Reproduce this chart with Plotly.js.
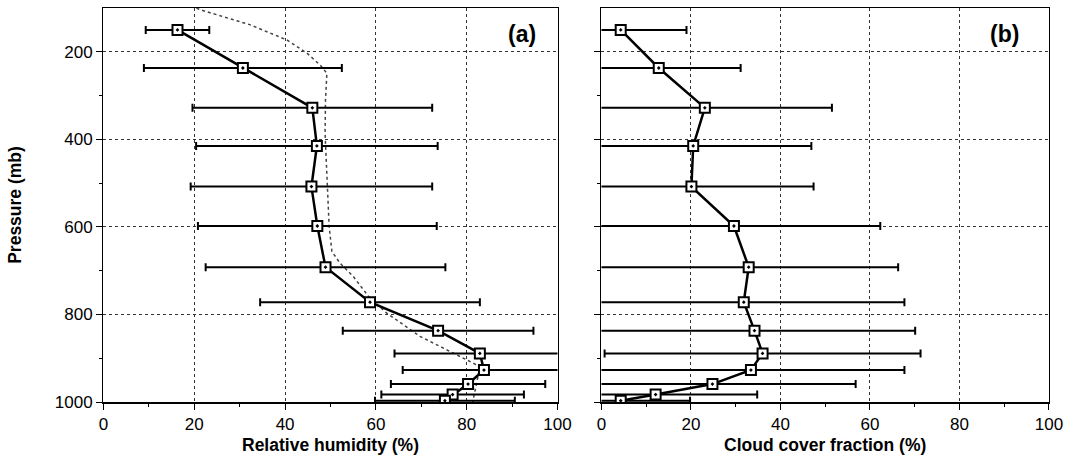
<!DOCTYPE html>
<html>
<head>
<meta charset="utf-8">
<script src="https://cdn.plot.ly/plotly-3.0.1.min.js"></script>
<style>html,body{margin:0;padding:0;background:#fff;}#chart{width:1067px;height:464px;}</style>
</head>
<body>
<div id="chart"></div>
<script>
// Pressure levels (mb)
const pressure = [150, 237, 328, 415, 508, 598, 692, 772, 837, 889, 927, 959, 983, 997];
// Panel (a): relative humidity (%) and its spread
const relHumidity = [16.3, 30.7, 46.0, 47.0, 45.8, 47.1, 48.9, 58.7, 73.7, 82.9, 83.8, 80.3, 76.9, 75.2];
const relHumidityErr = [7.0, 21.8, 26.4, 26.6, 26.6, 26.3, 26.4, 24.2, 21.0, 18.8, 17.9, 17.0, 15.7, 15.4];
// Panel (a): dotted reference profile
const refPressure = [100, 104, 138, 173, 203, 230, 249, 310, 386, 500, 599, 656, 683, 713, 763, 797, 850, 896, 919, 957, 987, 1000];
const refHumidity = [20.5, 21.3, 32.2, 40.4, 44.8, 47.7, 49.2, 48.9, 48.8, 49.3, 49.7, 50.3, 52.1, 55.0, 58.7, 62.4, 69.7, 78.5, 82.9, 82.2, 81.5, 81.3];
// Panel (b): cloud cover fraction (%) and its spread
const cloudCover = [4.3, 12.8, 23.1, 20.5, 20.1, 29.6, 32.9, 31.8, 34.2, 36.0, 33.4, 24.8, 12.1, 4.3];
const cloudCoverErr = [14.7, 18.3, 28.4, 26.4, 27.3, 32.7, 33.4, 35.9, 35.9, 35.3, 34.3, 32.0, 22.7, 15.5];
const xTicks = [0, 20, 40, 60, 80, 100];
const yTicks = [200, 400, 600, 800, 1000];

const font = 'Liberation Sans, Arial, sans-serif';
const markerStyle = {symbol: 'square-dot', size: 10, color: '#fff', line: {color: '#000', width: 2}};
const errStyle = (arr) => ({type: 'data', symmetric: true, array: arr, color: '#000', thickness: 2, width: 4});

const traces = [
  {x: refHumidity, y: refPressure, xaxis: 'x', yaxis: 'y', mode: 'lines',
   line: {color: '#444', width: 1.5, dash: 'dot'}, hoverinfo: 'skip'},
  {x: relHumidity, y: pressure, xaxis: 'x', yaxis: 'y', mode: 'lines+markers',
   line: {color: '#000', width: 2.5}, marker: markerStyle, error_x: errStyle(relHumidityErr)},
  {x: cloudCover, y: pressure, xaxis: 'x2', yaxis: 'y2', mode: 'lines+markers',
   line: {color: '#000', width: 2.5}, marker: markerStyle, error_x: errStyle(cloudCoverErr)}
];

const xBase = {
  range: [0, 100], tickvals: xTicks, ticktext: xTicks.map(String),
  showgrid: true, gridcolor: '#333', griddash: 'dot', gridwidth: 1,
  showline: true, linecolor: '#000', linewidth: 1.5, mirror: true,
  ticks: 'outside', ticklen: 6, tickcolor: '#000',
  minor: {dtick: 10, tick0: 0, ticks: 'outside', ticklen: 3, tickcolor: '#000', showgrid: false},
  tickfont: {family: font, size: 17, color: '#000'}, zeroline: false
};
const yBase = {
  range: [1000, 100], tickvals: yTicks,
  showgrid: true, gridcolor: '#333', griddash: 'dot', gridwidth: 1,
  showline: true, linecolor: '#000', linewidth: 1.5, mirror: true,
  ticks: 'outside', ticklen: 6, tickcolor: '#000',
  minor: {tickvals: [300, 500, 700, 900], ticks: 'outside', ticklen: 3, tickcolor: '#000', showgrid: false},
  tickfont: {family: font, size: 17, color: '#000'}, zeroline: false
};

const layout = {
  width: 1067, height: 464,
  margin: {l: 0, r: 0, t: 8, b: 62},
  paper_bgcolor: '#fff', plot_bgcolor: '#fff',
  showlegend: false,
  font: {family: font, color: '#000'},
  xaxis: Object.assign({}, xBase, {domain: [0.097, 0.5225], anchor: 'y',
    title: {text: '<b>Relative humidity (%)</b>', font: {family: font, size: 17.5, color: '#000'}, standoff: 6}}),
  yaxis: Object.assign({}, yBase, {domain: [0, 1], anchor: 'x',
    title: {text: '<b>Pressure (mb)</b>', font: {family: font, size: 17.5, color: '#000'}, standoff: 28}}),
  xaxis2: Object.assign({}, xBase, {domain: [0.5637, 0.9831], anchor: 'y2',
    title: {text: '<b>Cloud cover fraction (%)</b>', font: {family: font, size: 17.5, color: '#000'}, standoff: 6}}),
  yaxis2: Object.assign({}, yBase, {domain: [0, 1], anchor: 'x2', showticklabels: false}),
  annotations: [
    {text: '<b>(a)</b>', xref: 'x', yref: 'y', x: 92.2, y: 159, showarrow: false,
     font: {family: font, size: 23, color: '#000'}},
    {text: '<b>(b)</b>', xref: 'x2', yref: 'y2', x: 90, y: 159, showarrow: false,
     font: {family: font, size: 23, color: '#000'}}
  ]
};

Plotly.newPlot('chart', traces, layout, {displayModeBar: false, staticPlot: true});
</script>
</body>
</html>
